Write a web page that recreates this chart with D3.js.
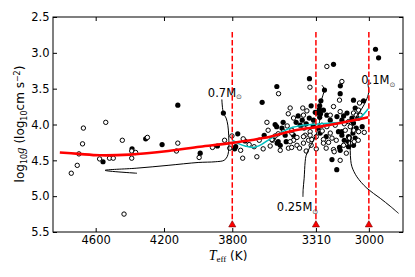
<!DOCTYPE html>
<html><head><meta charset="utf-8">
<script src="https://cdn.jsdelivr.net/npm/d3@7"></script>
<style>body{margin:0;background:#fff}svg{display:block}</style>
</head><body>
<svg id="c" width="415" height="277"></svg>
<script>
const xTicks=[4600,4200,3800,3310,3000];
const yTicks=[2.5,3.0,3.5,4.0,4.5,5.0,5.5];

const openT=[4743,4708,4698,4677,4672,4577,4541,4519,4497,4444,4389,4366,4389,4297,4434,4119,4127,3994,3916,3845,3815,3802,3751,3739,3701,3672,3656,3529,3461,3597,3565,3549,3500,3451,3519,3471,3452,3441,3421,3568,3736,3246,3345,3158,3172,3387,3363,3060,3207,3168,
3441,3451,3421,3461,3406,3383,3353,3334,3373,3344,3266,3236,3216,3226,3207,3250,3168,3275,3246,3197,3090,3074,3144,3109,3090,3060,3027,3113,3086,3138,3148,3109,3266,3344,3383,3383,3226,3119,3050,3055,3379,3478,3531,3590,3642,3619,3578,3273,3308,3191,3062,3203,3132,3338,3308,3367,3472];
const openG=[4.68,4.57,4.41,4.27,4.05,4.48,3.97,4.47,4.47,4.22,4.37,4.39,4.47,4.18,5.25,4.26,4.37,4.46,4.32,4.22,4.33,4.16,4.36,4.47,4.28,4.31,4.45,3.57,3.77,3.97,4.22,4.16,4.10,4.12,4.36,4.33,4.32,4.22,4.29,4.21,4.20,3.19,3.48,3.40,3.66,3.77,3.81,3.80,3.75,3.82,
3.91,4.08,4.18,4.24,4.33,4.26,4.22,4.21,4.15,4.10,4.21,4.25,4.19,4.12,4.35,4.33,4.50,4.01,4.03,4.01,3.84,3.87,3.99,4.03,4.08,4.10,4.11,4.19,4.24,4.08,4.29,4.26,4.26,4.15,4.17,3.87,3.87,3.96,3.87,3.70,4.05,4.02,4.13,4.08,4.22,4.34,4.30,4.09,4.17,4.22,4.22,4.38,4.40,4.29,4.34,4.37,3.85];

const filledT=[4557,4387,4307,4211,4119,3988,3887,3768,3780,3786,3725,3852,3625,3539,3549,3540,3531,3519,3537,3509,2961,2943,3207,3348,3260,3167,3168,3090,3031,3281,3338,3080,
3441,3216,3188,3266,3246,3187,3158,3226,3178,3158,3128,3148,3099,3060,3093,3119,3119,3090,3168,3158,3080,3119,3172,3285,3304,3324,3090,3559,3414,3390,3367,3402,3349,3326,3426,3314,3288,3288,3502,3490,3613,3484,3297,3250,3144,3039,3074,3290,3283];
const filledG=[4.52,4.34,4.20,4.28,3.73,4.40,4.30,4.13,4.31,4.34,4.23,3.84,3.69,3.47,4.00,4.03,4.24,4.29,4.26,4.05,2.95,3.07,3.16,3.36,3.52,3.46,3.57,3.66,3.67,3.67,3.74,3.77,
4.15,4.49,4.63,3.80,3.87,3.89,3.94,3.94,4.10,4.15,3.84,3.88,3.91,3.91,4.12,4.17,4.24,4.29,4.36,4.10,4.19,4.31,4.32,4.12,3.84,3.94,3.98,4.19,3.88,3.94,3.99,4.01,3.91,4.02,3.97,3.83,3.90,3.74,3.97,4.15,4.15,4.24,4.05,4.17,4.22,4.03,4.05,3.79,3.85];

const fitT=[4810,4700,4575,4400,4175,3990,3813,3578,3431,3285,3168,3004];
const fitG=[4.39,4.41,4.43,4.42,4.37,4.31,4.26,4.17,4.08,4.03,3.98,3.90];

const cyanT=[3800,3760,3725,3678,3630,3578,3520,3461,3385,3285,3200,3109,3050,3004];
const cyanG=[4.22,4.27,4.30,4.32,4.28,4.20,4.12,4.05,4.01,3.99,3.975,3.96,3.90,3.78];

const track07T=[3861,3852,3836,3826,3821,3820,3822,3830,3848,3900,4000,4176,4363,4545,4358];
const track07G=[3.65,3.84,3.91,4.01,4.15,4.29,4.38,4.45,4.50,4.52,4.53,4.57,4.61,4.64,4.68];
const track025T=[3275,3261,3270,3282,3285,3295,3314,3344,3367,3373,3379,3385,3386];
const track025G=[3.45,3.51,3.60,3.70,3.89,4.03,4.17,4.31,4.43,4.52,4.75,4.91,5.01];
const track01T=[3006,3001,3015,3039,3068,3088,3100,3107,3109,3106,3099,3070,3011,2933,2875,2826];
const track01G=[3.43,3.55,3.66,3.77,3.87,3.97,4.09,4.22,4.36,4.50,4.59,4.73,4.89,5.03,5.14,5.24];

const markerT=[3800,3310,3000];
const markerTopG=2.71, markerG=5.40;
const labelText=["0.7M","0.25M","0.1M"];
const labelT=[3943,3539,3045];
const labelG=[3.61,5.21,3.44];

const svg=d3.select("#c");
const x=d3.scaleLinear().domain([4850,2800]).range([53,403]);
const y=d3.scaleLinear().domain([2.5,5.5]).range([17,232]);
const sans="DejaVu Sans, sans-serif";
const serif="Liberation Serif, DejaVu Serif, serif";

const pts=svg.append("g");
pts.selectAll("circle.f").data(d3.zip(filledT,filledG)).join("circle").attr("class","f")
  .attr("cx",d=>x(d[0])).attr("cy",d=>y(d[1])).attr("r",2.6).attr("fill","#000");
pts.selectAll("circle.o").data(d3.zip(openT,openG)).join("circle").attr("class","o")
  .attr("cx",d=>x(d[0])).attr("cy",d=>y(d[1])).attr("r",2.2).attr("fill","#fff").attr("stroke","#000").attr("stroke-width",1);

const line=d3.line().x(d=>x(d[0])).y(d=>y(d[1])).curve(d3.curveCatmullRom);
[[track07T,track07G],[track025T,track025G],[track01T,track01G]].forEach(([t,gg])=>{
  svg.append("path").attr("d",line(d3.zip(t,gg))).attr("fill","none").attr("stroke","#000").attr("stroke-width",1);
});
svg.append("path").attr("d",line(d3.zip(cyanT,cyanG))).attr("fill","none").attr("stroke","#00bfbf").attr("stroke-width",1.5);
svg.append("path").attr("d",line(d3.zip(fitT,fitG))).attr("fill","none").attr("stroke","#ff0000").attr("stroke-width",2.6);

markerT.forEach(t=>{
  svg.append("line").attr("x1",x(t)).attr("x2",x(t)).attr("y1",y(markerTopG)).attr("y2",y(markerG))
    .attr("stroke","#ff0000").attr("stroke-width",1.5).attr("stroke-dasharray","5.5,2.4");
  svg.append("path").attr("d",d3.symbol(d3.symbolTriangle,22)()).attr("transform",`translate(${x(t)},${y(markerG)})`)
    .attr("fill","#ff0000").attr("stroke","#700").attr("stroke-width",0.6);
});

labelText.forEach((s,i)=>{
  const t=svg.append("text").attr("x",x(labelT[i])).attr("y",y(labelG[i])).attr("font-family",sans).attr("font-size",11.5).attr("fill","#000");
  t.append("tspan").text(s);
  t.append("tspan").attr("dy",2.3).attr("font-size",7).attr("fill","#444").text("\u2299");
});

function style(g){g.select(".domain").remove();g.selectAll("text").attr("font-family",sans).attr("font-size",11.5).attr("fill","#000");g.selectAll("line").attr("stroke","#000");}
svg.append("g").attr("transform","translate(0,232)")
  .call(d3.axisBottom(x).tickValues(xTicks).tickSizeInner(-4).tickSizeOuter(0).tickPadding(4).tickFormat(d3.format("d"))).call(style);
svg.append("g").attr("transform","translate(0,17)")
  .call(d3.axisTop(x).tickValues(xTicks).tickSizeInner(-4).tickSizeOuter(0).tickFormat("")).call(style);
svg.append("g").attr("transform","translate(53,0)")
  .call(d3.axisLeft(y).tickValues(yTicks).tickSizeInner(-4).tickSizeOuter(0).tickPadding(3.5).tickFormat(d3.format(".1f"))).call(style);
svg.append("g").attr("transform","translate(403,0)")
  .call(d3.axisRight(y).tickValues(yTicks).tickSizeInner(-4).tickSizeOuter(0).tickFormat("")).call(style);
svg.append("rect").attr("x",53).attr("y",17).attr("width",350).attr("height",215).attr("fill","none").attr("stroke","#000").attr("stroke-width",1);

const xl=svg.append("text").attr("x",228).attr("y",259.5).attr("text-anchor","middle").attr("font-family",sans).attr("font-size",12);
xl.append("tspan").attr("font-family",serif).attr("font-style","italic").attr("font-size",14).text("T");
xl.append("tspan").attr("font-family",serif).attr("font-size",9).attr("dy",2).text("eff");
xl.append("tspan").attr("dy",-2).text(" (K)");

const yl=svg.append("text").attr("transform","translate(24,124) rotate(-90)").attr("text-anchor","middle").attr("font-family",sans).attr("font-size",12);
yl.append("tspan").text("log");
yl.append("tspan").attr("font-size",8).attr("dy",2.5).text("10");
yl.append("tspan").attr("font-family",serif).attr("font-style","italic").attr("font-size",13).attr("dy",-2.5).text("g");
yl.append("tspan").text(" (log");
yl.append("tspan").attr("font-size",8).attr("dy",2.5).text("10");
yl.append("tspan").attr("dy",-2.5).text("cm s");
yl.append("tspan").attr("font-size",8).attr("dy",-4.5).text("\u22122");
yl.append("tspan").attr("dy",4.5).text(")");
</script>
</body></html>
